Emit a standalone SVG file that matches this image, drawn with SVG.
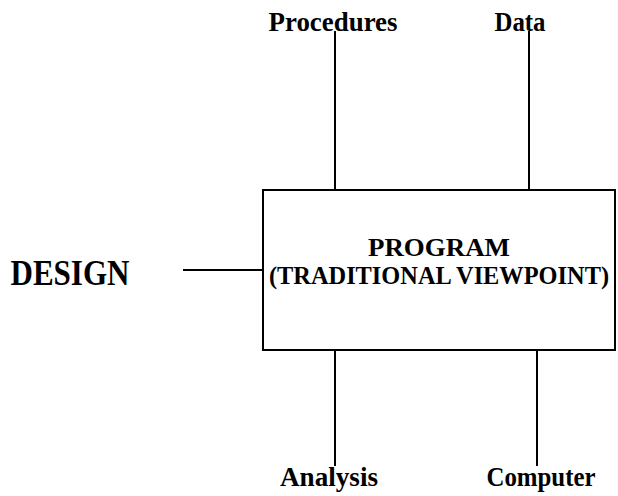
<svg xmlns="http://www.w3.org/2000/svg" width="618" height="496" viewBox="0 0 618 496">
  <style>
    .lbl { font-family: "Liberation Serif", "Times New Roman", serif; font-weight: bold; fill: #000; }
    .ln { stroke: #000; stroke-width: 2; fill: none; }
  </style>
  <rect width="618" height="496" fill="#fff"/>
  <g id="connectors">
    <line class="ln" x1="335" y1="31" x2="335" y2="189"/>
    <line class="ln" x1="529" y1="31" x2="529" y2="189"/>
    <line class="ln" x1="183" y1="270" x2="263" y2="270"/>
    <line class="ln" x1="335" y1="351" x2="335" y2="466"/>
    <line class="ln" x1="537" y1="351" x2="537" y2="466"/>
  </g>
  <g id="program">
    <rect class="ln" x="263" y="190" width="352" height="160"/>
    <text class="lbl" x="439" y="256" font-size="26" text-anchor="middle" textLength="142" lengthAdjust="spacingAndGlyphs">PROGRAM</text>
    <text class="lbl" x="439" y="284" font-size="25" text-anchor="middle" textLength="340" lengthAdjust="spacingAndGlyphs">(TRADITIONAL VIEWPOINT)</text>
  </g>
  <g id="procedures">
    <text class="lbl" x="333" y="31" font-size="27" text-anchor="middle" textLength="129" lengthAdjust="spacingAndGlyphs">Procedures</text>
  </g>
  <g id="data">
    <text class="lbl" x="520" y="31" font-size="27" text-anchor="middle" textLength="51" lengthAdjust="spacingAndGlyphs">Data</text>
  </g>
  <g id="design">
    <text class="lbl" x="70" y="285" font-size="36" text-anchor="middle" textLength="119" lengthAdjust="spacingAndGlyphs">DESIGN</text>
  </g>
  <g id="analysis">
    <text class="lbl" x="329" y="486" font-size="27" text-anchor="middle" textLength="98" lengthAdjust="spacingAndGlyphs">Analysis</text>
  </g>
  <g id="computer">
    <text class="lbl" x="541" y="486" font-size="27" text-anchor="middle" textLength="109" lengthAdjust="spacingAndGlyphs">Computer</text>
  </g>
</svg>
